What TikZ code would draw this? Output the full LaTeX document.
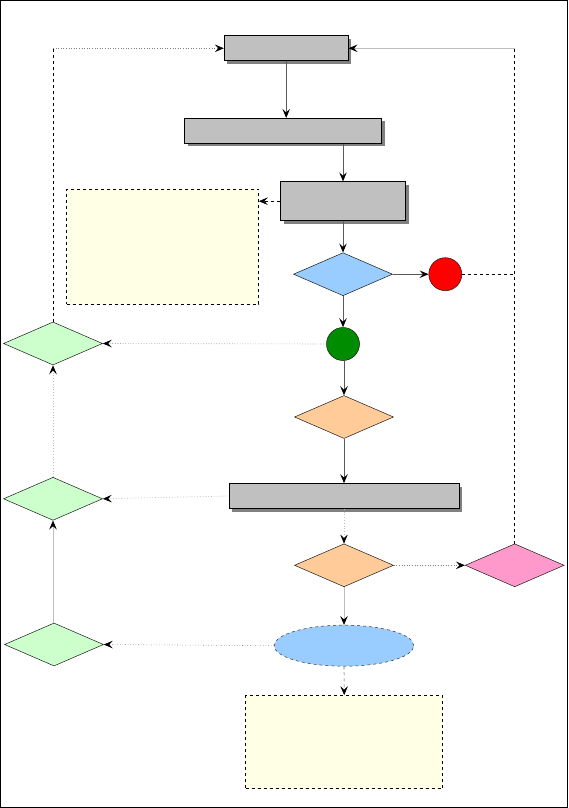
\documentclass[tikz,border=0pt]{standalone}
\usetikzlibrary{shapes.geometric,arrows.meta,shadows}
\definecolor{boxgray}{RGB}{192,192,192}
\definecolor{shgray}{RGB}{128,128,128}
\definecolor{noteyellow}{RGB}{255,255,230}
\definecolor{lblue}{RGB}{153,204,255}
\definecolor{lgreen}{RGB}{204,255,204}
\definecolor{lorange}{RGB}{255,204,153}
\definecolor{lpink}{RGB}{255,153,204}
\definecolor{dgreen}{RGB}{0,140,0}
\definecolor{linedark}{RGB}{90,90,90}
\definecolor{linelight}{RGB}{190,190,190}
\tikzset{
  procbox/.style={draw=black, line width=0.7pt, fill=boxgray, inner sep=0pt,
    drop shadow={shadow xshift=3pt, shadow yshift=-3pt, fill=shgray, opacity=1}},
  notebox/.style={draw=black, dashed, line width=0.6pt, fill=noteyellow, inner sep=0pt},
  decision/.style={diamond, draw=black!90, line width=0.5pt, inner sep=0pt, minimum width=99pt, minimum height=43pt},
  stateball/.style={circle, draw=black!90, line width=0.5pt, inner sep=0pt, minimum size=33pt},
  tip/.style={-{Stealth[length=9pt,width=7.5pt,inset=3.5pt,color=black]}},
  solidcon/.style={tip, draw=linedark, line width=0.8pt},
  lightcon/.style={tip, draw=linelight, line width=0.8pt, dotted},
  dotcon/.style={tip, draw=black!50, line width=0.6pt, dotted},
  dashcon/.style={draw=black, line width=0.6pt, dashed},
}
\begin{document}
\begin{tikzpicture}[x=1pt,y=1pt]
\useasboundingbox (0,0) rectangle (568,-808);
\draw[line width=1.2pt] (0.8,-0.8) rectangle (567.2,-807.2);

% nodes
\node[procbox, minimum width=124pt, minimum height=25pt] (A) at (286.2,-48.3) {};
\node[procbox, minimum width=197pt, minimum height=25pt] (B) at (283.1,-130.8) {};
\node[procbox, minimum width=125pt, minimum height=39pt] (C) at (343,-201.2) {};
\node[notebox, minimum width=192pt, minimum height=115pt] (D) at (162.5,-246.8) {};
\node[decision, fill=lblue] (E) at (343,-274.2) {};
\node[stateball, fill=red] (F) at (445.3,-274.2) {};
\node[decision, fill=lgreen] (G1) at (53,-343.5) {};
\node[stateball, fill=dgreen] (H) at (343,-344) {};
\node[decision, fill=lorange] (I) at (344,-417) {};
\node[procbox, minimum width=230pt, minimum height=25pt] (J) at (344,-496) {};
\node[decision, fill=lgreen] (G2) at (53,-498.8) {};
\node[decision, fill=lorange] (K) at (344,-565.3) {};
\node[decision, fill=lpink] (L) at (514.7,-565.3) {};
\node[decision, fill=lgreen] (G3) at (54,-644.5) {};
\node[ellipse, draw=black!80, dashed, line width=0.5pt, fill=lblue, inner sep=0pt, minimum width=139.5pt, minimum height=41pt] (M) at (344,-645.7) {};
\node[notebox, minimum width=197pt, minimum height=93pt] (N) at (344.2,-742) {};

\coordinate (RT) at (L.north |- A.east);
\coordinate (LT) at (G1.north |- A.west);
\coordinate (FR) at (L.north |- F.east);

% connectors
\draw[solidcon] (A.south) -- (A.south |- B.north);
\draw[solidcon] (C.north |- B.south) -- (C.north);
\draw[dashcon, tip] (C.west) -- (D.east |- C.west);
\draw[solidcon] (C.south) -- (E.north);
\draw[solidcon] (E.east) -- (F.west);
\draw[dashcon] (F.east) -- (FR);
\draw[dashcon] (L.north) -- (RT);
\draw[tip, draw=linelight, line width=0.8pt] (RT) -- (A.east);
\draw[dashcon] (G1.north) -- (LT);
\draw[dotcon] (LT) -- (A.west);
\draw[solidcon] (E.south) -- (H.north);
\draw[dotcon] (H.west) -- (G1.east);
\draw[solidcon] (H.south -| I.north) -- (I.north);
\draw[solidcon] (I.south) -- (J.north);
\draw[lightcon] (J.west) -- (G2.east);
\draw[lightcon] (G2.north) -- (G1.south);
\draw[lightcon] (J.south) -- (K.north);
\draw[dotcon] (K.east) -- (L.west);
\draw[tip, draw=linelight, line width=0.8pt] (K.south) -- (M.north);
\draw[dotcon] (M.west) -- (G3.east);
\draw[tip, draw=linelight, line width=0.6pt] (G3.north -| G2.south) -- (G2.south);
\draw[dashcon, draw=linedark, tip] (M.south) -- (N.north);
\end{tikzpicture}
\end{document}
